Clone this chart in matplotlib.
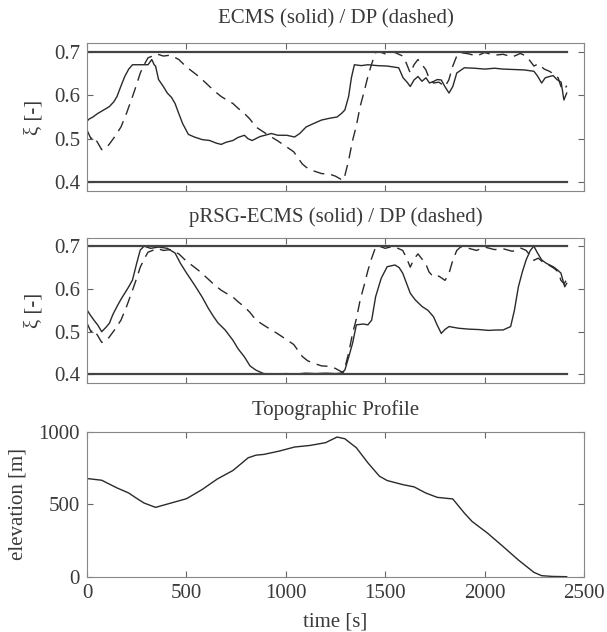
import matplotlib.pyplot as plt
import numpy as np

plt.rcParams['font.family'] = 'Liberation Serif'

# DP (dashed) reference trajectory, shared by both panels
t_dp = [0, 20, 35, 55, 74, 95, 113, 140, 171, 200, 229, 250, 268, 290, 307, 330, 350, 384, 420, 462, 500,
        540, 570, 598, 640, 675, 700, 734, 760, 792, 820, 850, 890, 928, 960, 1005, 1040, 1083, 1110, 1141,
        1180, 1219, 1250, 1277, 1290, 1297, 1316, 1336, 1355, 1374, 1395, 1413, 1432, 1452, 1470, 1500,
        1540, 1588, 1605, 1626, 1645, 1665, 1685, 1704, 1720, 1743, 1770, 1801, 1820, 1840, 1860, 1879,
        1920, 1960, 2000, 2050, 2093, 2140, 2180, 2209, 2230, 2248, 2270, 2300, 2326, 2350, 2370, 2384,
        2400, 2413]
xi_dp = [0.52, 0.50, 0.505, 0.49, 0.475, 0.478, 0.488, 0.505, 0.527, 0.56, 0.597, 0.625, 0.651, 0.672,
         0.686, 0.69, 0.695, 0.69, 0.692, 0.682, 0.665, 0.651, 0.64, 0.628, 0.61, 0.597, 0.59, 0.581,
         0.57, 0.558, 0.545, 0.527, 0.515, 0.504, 0.495, 0.481, 0.47, 0.442, 0.432, 0.426, 0.42, 0.419,
         0.414, 0.407, 0.405, 0.415, 0.45, 0.496, 0.53, 0.574, 0.61, 0.643, 0.672, 0.698, 0.70, 0.695,
         0.70, 0.69, 0.675, 0.651, 0.67, 0.682, 0.67, 0.659, 0.64, 0.628, 0.63, 0.62, 0.635, 0.667,
         0.69, 0.698, 0.695, 0.69, 0.698, 0.692, 0.694, 0.688, 0.696, 0.69, 0.678, 0.667, 0.672, 0.66,
         0.655, 0.648, 0.64, 0.62, 0.612, 0.622]

# ECMS (solid), top panel
t_ecms = [0, 10, 30, 54, 80, 113, 135, 151, 170, 190, 210, 229, 260, 307, 326, 338, 345, 360, 384, 404,
          425, 443, 460, 481, 510, 540, 580, 617, 650, 675, 700, 734, 760, 792, 810, 831, 870, 928, 960,
          1005, 1044, 1070, 1102, 1140, 1180, 1220, 1258, 1280, 1297, 1316, 1330, 1345, 1380, 1413, 1460,
          1510, 1540, 1568, 1590, 1610, 1626, 1645, 1665, 1685, 1705, 1723, 1745, 1762, 1782, 1800, 1821,
          1840, 1860, 1898, 1950, 2000, 2050, 2093, 2150, 2200, 2248, 2265, 2287, 2305, 2326, 2345, 2364,
          2385, 2399, 2413]
xi_ecms = [0.54, 0.545, 0.55, 0.558, 0.565, 0.574, 0.585, 0.597, 0.62, 0.643, 0.66, 0.67, 0.67, 0.67,
           0.682, 0.67, 0.667, 0.636, 0.62, 0.605, 0.595, 0.581, 0.56, 0.535, 0.51, 0.504, 0.498, 0.496,
           0.49, 0.487, 0.492, 0.496, 0.503, 0.508, 0.5, 0.496, 0.505, 0.512, 0.508, 0.508, 0.504, 0.512,
           0.527, 0.535, 0.543, 0.547, 0.55, 0.558, 0.566, 0.597, 0.64, 0.67, 0.668, 0.67, 0.668, 0.667,
           0.665, 0.663, 0.64, 0.63, 0.62, 0.635, 0.643, 0.632, 0.64, 0.628, 0.632, 0.636, 0.635, 0.62,
           0.605, 0.62, 0.651, 0.663, 0.662, 0.66, 0.662, 0.66, 0.659, 0.658, 0.655, 0.645, 0.628, 0.64,
           0.643, 0.645, 0.636, 0.63, 0.589, 0.605]

# pRSG-ECMS (solid), middle panel
t_prsg = [0, 15, 35, 55, 74, 95, 113, 130, 151, 170, 190, 210, 229, 250, 268, 287, 320, 360, 404, 443,
          470, 501, 540, 578, 610, 637, 660, 695, 734, 760, 792, 820, 850, 889, 950, 1000, 1050, 1100,
          1150, 1200, 1250, 1277, 1297, 1316, 1336, 1355, 1390, 1413, 1432, 1452, 1480, 1510, 1549, 1570,
          1588, 1610, 1626, 1650, 1685, 1715, 1743, 1762, 1782, 1800, 1821, 1870, 1920, 1970, 2020, 2060,
          2093, 2131, 2150, 2170, 2190, 2209, 2230, 2248, 2265, 2287, 2310, 2345, 2365, 2384, 2403, 2413]
xi_prsg = [0.551, 0.54, 0.527, 0.515, 0.50, 0.51, 0.52, 0.54, 0.559, 0.575, 0.59, 0.605, 0.621, 0.66,
           0.691, 0.70, 0.695, 0.698, 0.695, 0.684, 0.66, 0.637, 0.61, 0.582, 0.555, 0.535, 0.52, 0.504,
           0.48, 0.46, 0.441, 0.42, 0.41, 0.402, 0.401, 0.402, 0.401, 0.403, 0.402, 0.403, 0.402, 0.403,
           0.41, 0.44, 0.473, 0.516, 0.518, 0.516, 0.527, 0.582, 0.625, 0.652, 0.656, 0.65, 0.637, 0.61,
           0.59, 0.575, 0.559, 0.55, 0.535, 0.515, 0.496, 0.505, 0.512, 0.508, 0.506, 0.505, 0.503, 0.504,
           0.504, 0.512, 0.55, 0.605, 0.64, 0.668, 0.69, 0.70, 0.685, 0.668, 0.66, 0.652, 0.645, 0.637,
           0.605, 0.613]

# topographic profile
t_topo = [0, 74, 151, 210, 250, 287, 345, 423, 501, 578, 656, 734, 811, 850, 889, 967, 1044, 1122, 1200,
          1258, 1297, 1355, 1413, 1471, 1510, 1588, 1646, 1704, 1762, 1840, 1898, 1937, 2015, 2093, 2170,
          2248, 2287, 2340, 2413]
elev = [677, 665, 612, 577, 540, 508, 478, 508, 538, 600, 674, 732, 820, 838, 843, 866, 894, 905, 924,
        963, 951, 889, 785, 693, 663, 635, 619, 577, 547, 536, 439, 381, 300, 208, 115, 30, 7, 2, 0]

limits = [0.4, 0.7]
t_end = 2415

fig = plt.figure(figsize=(6.07, 6.32), dpi=100)
ax1 = fig.add_axes([0.1433, 0.6978, 0.8188, 0.2342])
ax2 = fig.add_axes([0.1433, 0.394, 0.8188, 0.230])
ax3 = fig.add_axes([0.1433, 0.0875, 0.8188, 0.2295])

lc = '#2a2a2a'
tc = '#3a3a3a'
for ax, t_s, xi_s, title, pad in [(ax1, t_ecms, xi_ecms, 'ECMS (solid) / DP (dashed)', 14),
                                  (ax2, t_prsg, xi_prsg, 'pRSG-ECMS (solid) / DP (dashed)', 11)]:
    ax.plot(t_s, xi_s, color=lc, lw=1.0)
    ax.plot(t_dp, xi_dp, color=lc, lw=1.0, ls=(0, (8, 5)))
    for v in limits:
        ax.plot([0, t_end], [v, v], color='#444444', lw=1.6)
    ax.set_ylim(0.38, 0.72)
    ax.set_yticks([0.4, 0.5, 0.6, 0.7])
    ax.set_xticklabels([])
    ax.set_ylabel('ξ [-]', fontsize=15, color=tc)
    ax.yaxis.set_label_coords(-0.088, 0.5)
    ax.set_title(title, fontsize=15, color=tc, pad=pad)

ax3.plot(t_topo, elev, color=lc, lw=1.0)
ax3.set_ylim(0, 1000)
ax3.set_yticks([0, 500, 1000])
ax3.set_ylabel('elevation [m]', fontsize=15, color=tc)
ax3.yaxis.set_label_coords(-0.119, 0.5)
ax3.set_xlabel('time [s]', fontsize=15, color=tc, labelpad=7)
ax3.set_title('Topographic Profile', fontsize=15, color=tc, pad=12)

for ax in (ax1, ax2, ax3):
    ax.set_xlim(0, 2500)
    ax.set_xticks([0, 500, 1000, 1500, 2000, 2500])
    ax.tick_params(direction='in', top=True, right=True, labelsize=15, length=4,
                   color='#666666', labelcolor=tc, pad=5)
    for s in ax.spines.values():
        s.set_color('#888888')

plt.savefig('out.png')
